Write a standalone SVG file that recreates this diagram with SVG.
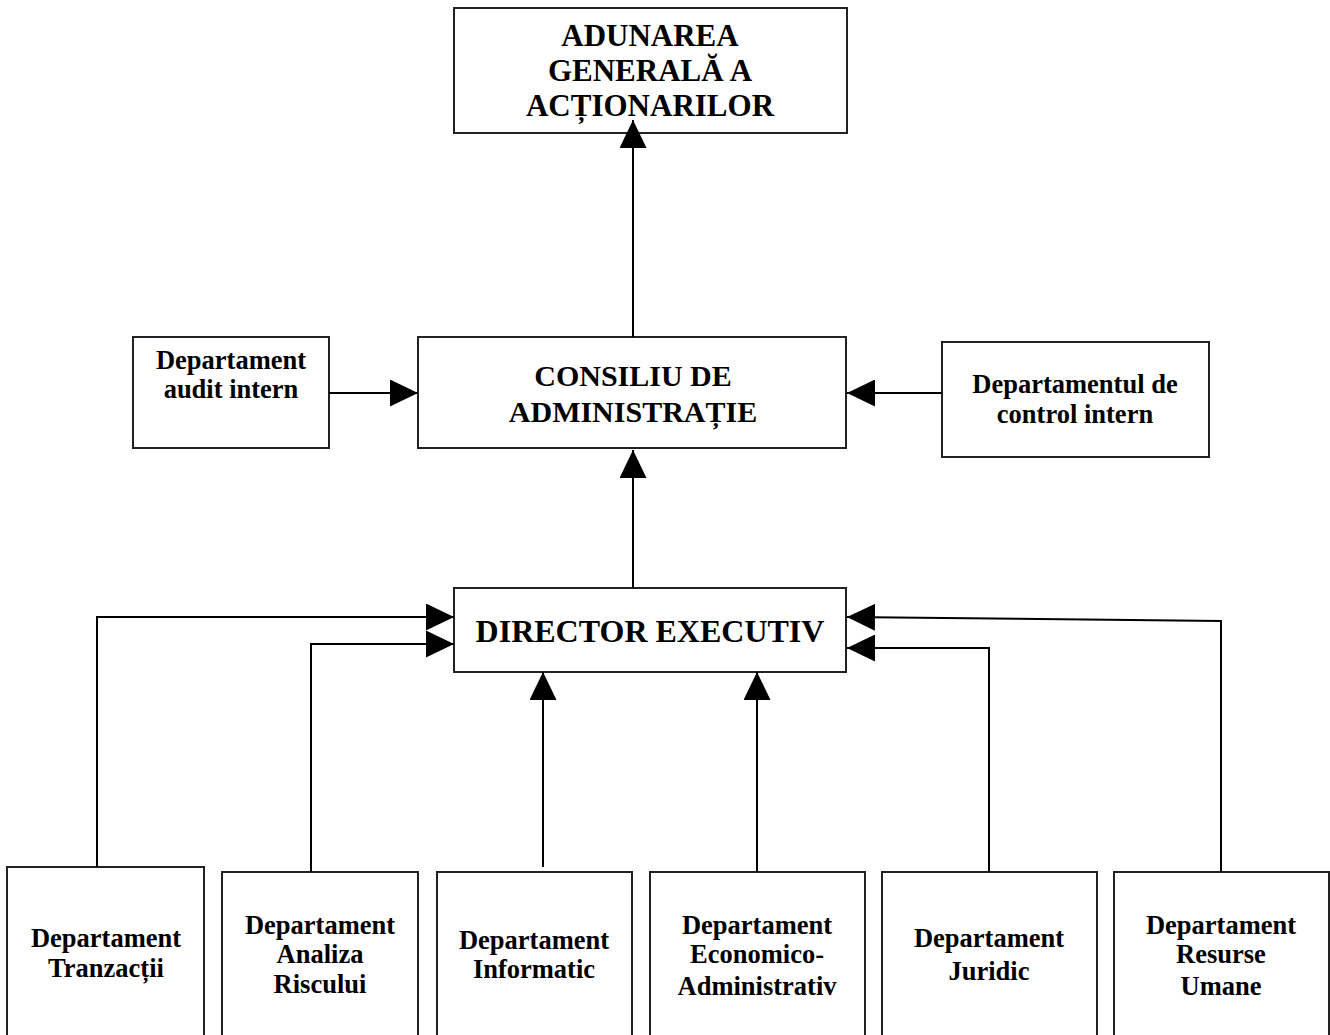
<svg xmlns="http://www.w3.org/2000/svg" width="1330" height="1035" viewBox="0 0 1330 1035">
<style>
.box{fill:#fff;stroke:#222;stroke-width:2}
.t{font-family:"Liberation Serif","Times New Roman",serif;font-weight:bold;fill:#000;text-anchor:middle}
.s{font-size:26.5px}
.l{font-size:30px}
.c{fill:none;stroke:#000;stroke-width:2;marker-end:url(#ah)}
</style>
<defs>
<marker id="ah" markerUnits="userSpaceOnUse" markerWidth="28" markerHeight="27" refX="28" refY="13.5" orient="auto" viewBox="0 0 28 27">
<path d="M0,0 L28,13.5 L0,27 z" fill="#000"/>
</marker>
</defs>
<rect width="1330" height="1035" fill="#fff"/>
<g id="adunarea">
<rect class="box" x="454" y="8" width="393" height="125"/>
<text class="t" style="font-size:31px" x="650" y="46">ADUNAREA</text>
<text class="t" style="font-size:31px" x="650" y="81">GENERALĂ A</text>
<text class="t" style="font-size:31px" x="650" y="116">ACȚIONARILOR</text>
</g>
<g id="consiliu">
<rect class="box" x="418" y="337" width="428" height="111"/>
<text class="t l" x="633" y="386">CONSILIU DE</text>
<text class="t l" x="633" y="422">ADMINISTRAȚIE</text>
</g>
<g id="audit">
<rect class="box" x="133" y="337" width="196" height="111"/>
<text class="t s" x="231" y="369">Departament</text>
<text class="t s" x="231" y="398">audit intern</text>
</g>
<g id="control">
<rect class="box" x="942" y="342" width="267" height="115"/>
<text class="t s" x="1075" y="393">Departamentul de</text>
<text class="t s" x="1075" y="423">control intern</text>
</g>
<g id="director">
<rect class="box" x="454" y="588" width="392" height="84"/>
<text class="t" style="font-size:32px" x="650" y="642">DIRECTOR EXECUTIV</text>
</g>
<g id="tranzactii">
<rect class="box" x="7" y="867" width="197" height="175"/>
<text class="t s" x="106" y="947">Departament</text>
<text class="t s" x="106" y="977">Tranzacții</text>
</g>
<g id="analiza">
<rect class="box" x="222" y="872" width="196" height="170"/>
<text class="t s" x="320" y="934">Departament</text>
<text class="t s" x="320" y="963">Analiza</text>
<text class="t s" x="320" y="993">Riscului</text>
</g>
<g id="informatic">
<rect class="box" x="437" y="872" width="195" height="170"/>
<text class="t s" x="534" y="949">Departament</text>
<text class="t s" x="534" y="978">Informatic</text>
</g>
<g id="economico">
<rect class="box" x="650" y="872" width="215" height="170"/>
<text class="t s" x="757" y="934">Departament</text>
<text class="t s" x="757" y="963">Economico-</text>
<text class="t s" x="757" y="995">Administrativ</text>
</g>
<g id="juridic">
<rect class="box" x="882" y="872" width="215" height="170"/>
<text class="t s" x="989" y="947">Departament</text>
<text class="t s" x="989" y="980">Juridic</text>
</g>
<g id="resurse">
<rect class="box" x="1114" y="872" width="215" height="170"/>
<text class="t s" x="1221" y="934">Departament</text>
<text class="t s" x="1221" y="963">Resurse</text>
<text class="t s" x="1221" y="995">Umane</text>
</g>
<g id="connectors">
<path class="c" d="M633,337 L633,120"/>
<path class="c" d="M633,588 L633,450"/>
<path class="c" d="M329,393 L418,393"/>
<path class="c" d="M942,393 L847,393"/>
<path class="c" d="M97,867 L97,617 L454,617"/>
<path class="c" d="M311,872 L311,644 L454,644"/>
<path class="c" d="M543,867 L543,672"/>
<path class="c" d="M757,872 L757,672"/>
<path class="c" d="M989,872 L989,648 L847,648"/>
<path class="c" d="M1221,872 L1221,621 L847,617"/>
</g>
</svg>
